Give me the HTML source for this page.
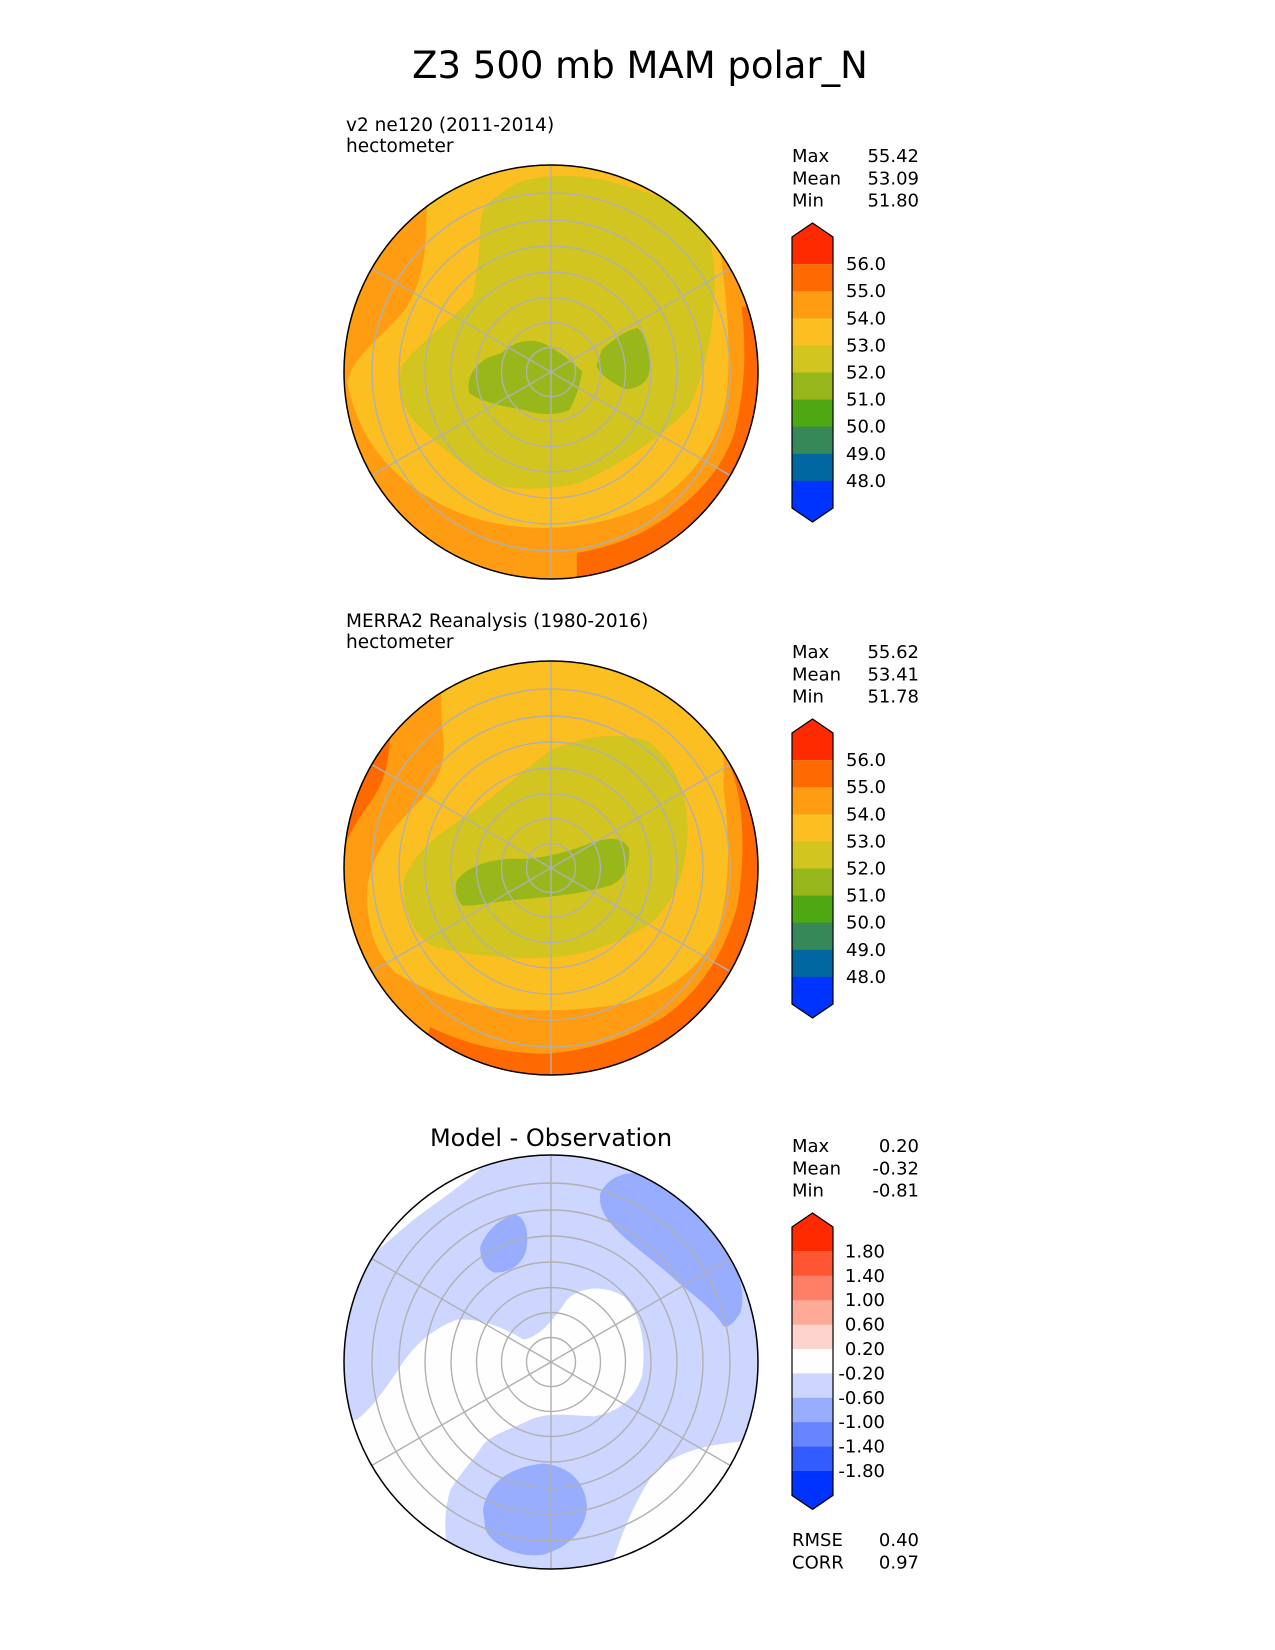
<!DOCTYPE html>
<html><head><meta charset="utf-8">
<style>
html,body{margin:0;padding:0;background:#fff;}
svg{display:block;font-family:"DejaVu Sans","Liberation Sans",sans-serif;}
</style></head>
<body>
<svg id="fig" width="1275" height="1650" viewBox="0 0 1275 1650" xmlns="http://www.w3.org/2000/svg">
<defs>
<clipPath id="c1"><circle cx="551" cy="372" r="207"/></clipPath>
<clipPath id="c2"><circle cx="551" cy="868" r="207"/></clipPath>
<clipPath id="c3"><circle cx="551" cy="1362" r="207"/></clipPath>
</defs>
<rect width="1275" height="1650" fill="#fff"/>
<text x="640" y="78" font-size="37" text-anchor="middle">Z3 500 mb MAM polar_N</text>

<!-- Panel 1 -->
<g clip-path="url(#c1)">
<circle cx="551" cy="372" r="207" fill="#ff9c12"/>
<g transform="translate(551,372) scale(0.358,0.333) translate(-618,-667)">
<path fill="#ff6a00" d="M1150,470 C1165,600 1160,720 1130,850 C1090,980 990,1080 870,1150 C810,1180 750,1200 690,1210 L690,1400 L1400,1400 L1400,470 Z"/>
<path fill="#fcbf22" d="M280,20 L1050,20 L1090,300 C1110,450 1120,600 1110,720 C1100,850 1030,970 920,1050 C820,1110 700,1135 600,1135 C450,1135 330,1090 230,1010 C130,930 70,820 50,700 C60,620 150,560 210,480 C260,400 270,300 270,200 Z"/>
<path fill="#d2c51f" d="M420,250 C420,160 440,160 520,100 C600,70 700,70 800,100 C900,130 980,160 1040,220 C1080,300 1080,400 1070,500 C1060,600 1040,700 1000,780 C920,870 800,950 700,1000 C640,1015 560,1025 480,1010 C400,980 320,900 240,820 C190,760 190,700 200,650 C250,580 330,520 400,440 C410,380 420,300 420,250 Z"/>
<path fill="#97b71a" d="M480,610 C510,580 550,565 590,578 C630,595 670,630 705,665 C700,700 690,740 670,780 C640,795 590,800 540,780 C480,770 420,755 390,730 C380,690 400,650 440,625 Z"/>
<path fill="#97b71a" d="M760,600 C790,570 830,540 860,535 C890,560 900,620 892,670 C885,705 850,720 825,718 C790,700 760,680 745,650 Z"/>
</g>
</g>

<!-- Panel 2 -->
<g clip-path="url(#c2)">
<circle cx="551" cy="868" r="207" fill="#ff9c12"/>
<g transform="translate(551,868) scale(0.3333) translate(-662,-683)">
<path fill="#ff6a00" d="M180,280 C175,360 170,420 110,500 C80,540 60,580 40,620 L0,620 L0,280 Z"/>
<path fill="#ff6a00" d="M1200,380 C1250,500 1240,700 1220,800 C1180,950 1100,1060 1000,1130 C900,1190 780,1230 650,1240 C520,1240 400,1210 300,1160 L200,1400 L1400,1400 L1400,380 Z"/>
<path fill="#fcbf22" d="M340,30 L1180,30 L1180,450 C1200,600 1200,750 1160,880 C1100,1000 1000,1060 880,1090 C760,1110 640,1115 520,1105 C400,1090 300,1060 200,1000 C130,940 110,850 110,760 C115,650 180,570 260,490 C320,430 345,380 340,300 C330,220 330,150 340,30 Z"/>
<path fill="#d2c51f" d="M220,720 C250,640 320,580 420,520 C500,460 580,390 660,330 C740,295 840,270 950,300 C1030,360 1070,450 1072,560 C1072,680 1040,780 960,850 C860,910 760,950 640,952 C520,955 400,945 300,915 C240,870 215,800 220,720 Z"/>
<path fill="#97b71a" d="M380,720 C410,680 470,660 540,655 C620,660 700,640 790,605 C840,590 880,590 896,625 C900,680 880,720 840,735 C760,760 660,770 560,778 C480,785 430,800 395,795 C375,770 372,745 380,720 Z"/>
</g>
</g>

<!-- Panel 3 -->
<g clip-path="url(#c3)">
<circle cx="551" cy="1362" r="207" fill="#ccd6ff"/>
<g transform="translate(551,1362) scale(0.3333) translate(-662,-697)">
<path fill="#fefefe" d="M480,90 C420,150 330,210 250,270 C180,330 130,370 90,410 L0,410 L0,0 L480,0 Z"/>
<path fill="#fefefe" d="M80,870 C130,830 170,770 210,710 C250,650 300,600 380,570 C460,565 530,600 580,630 C630,620 670,570 710,510 C750,470 820,465 880,500 C930,550 950,640 935,740 C910,810 860,850 790,860 C720,858 660,845 600,870 C540,900 480,915 455,950 C430,990 390,1030 360,1080 C340,1150 340,1220 360,1300 L0,1300 L0,880 Z"/>
<path fill="#fefefe" d="M840,1320 C870,1220 910,1120 970,1030 C1030,970 1120,945 1240,935 L1400,935 L1400,1400 L840,1400 Z"/>
<path fill="#99adff" d="M450,350 C470,300 510,265 555,255 C590,265 598,320 585,370 C570,410 530,432 490,428 C460,415 448,385 450,350 Z"/>
<path fill="#99adff" d="M810,190 C830,150 870,128 920,130 C1000,160 1080,230 1160,320 C1220,400 1250,480 1230,550 C1210,580 1195,595 1180,590 C1150,540 1100,505 1040,455 C970,390 890,340 840,280 C815,250 805,220 810,190 Z"/>
<path fill="#99adff" d="M458,1140 C470,1060 540,1010 640,1002 C720,1010 765,1060 770,1130 C765,1200 720,1250 640,1275 C560,1285 490,1250 465,1200 Z"/>
</g>
</g>

<g id="grids"></g>
<g id="bars"></g>
<g id="texts"></g>
</svg>
<script>
// Colour-bar levels and colours (data)
const levelsAbs = [56.0, 55.0, 54.0, 53.0, 52.0, 51.0, 50.0, 49.0, 48.0];
const colorsAbs = ["#ff2a00", "#ff6a00", "#ff9c12", "#fcbf22", "#d2c51f", "#97b71a", "#4ea813", "#378858", "#0067a1", "#0033ff"];
const levelsDiff = [1.80, 1.40, 1.00, 0.60, 0.20, -0.20, -0.60, -1.00, -1.40, -1.80];
const colorsDiff = ["#ff2a00", "#ff5533", "#ff7f66", "#ffaa99", "#ffd4cc", "#fefefe", "#ccd6ff", "#99adff", "#6685ff", "#335cff", "#0033ff"];
const statNames = ["Max", "Mean", "Min"];
const statsTest = ["55.42", "53.09", "51.80"];
const statsObs = ["55.62", "53.41", "51.78"];
const statsDiff = ["0.20", "-0.32", "-0.81"];
const metricNames = ["RMSE", "CORR"];
const metricValues = ["0.40", "0.97"];
const ringRadii = [24.5, 49.5, 74.5, 100, 126, 152, 179];
const spokeAngles = [0, 60, 120, 180, 240, 300];

const NS = "http://www.w3.org/2000/svg";
function mk(tag, attrs, parent) {
  const e = document.createElementNS(NS, tag);
  for (const k in attrs) e.setAttribute(k, attrs[k]);
  parent.appendChild(e);
  return e;
}
const grids = document.getElementById('grids');
const bars = document.getElementById('bars');
const texts = document.getElementById('texts');
const centers = [372, 868, 1362];
const CX = 551, R = 207;

centers.forEach((cy, p) => {
  const g = mk('g', {}, grids);
  
  
  ringRadii.forEach(r => {
    const c = mk('circle', {cx: CX, cy: cy, r: r, fill: 'none', stroke: '#b0b0b0', 'stroke-width': 1.4}, g);
    
    
  });
  spokeAngles.forEach(a => {
    const rad = a * Math.PI / 180;
    const l = mk('line', {x1: CX, y1: cy, x2: CX + R * Math.sin(rad), y2: cy - R * Math.cos(rad), stroke: '#b0b0b0', 'stroke-width': 1.4}, g);
    
    
  });
  const b = mk('circle', {cx: CX, cy: cy, r: R, fill: 'none', stroke: '#000', 'stroke-width': 1.5}, g);
  
  
});

function colorbar(top, boxH, levels, colors, labelX, anchor, name) {
  const x0 = 792, x1 = 833, xm = (x0 + x1) / 2, tri = 14;
  const g = mk('g', {}, bars);
  
  
  const first = top + tri + boxH;
  const last = first + (levels.length - 1) * boxH;
  const t = mk('path', {d: `M${x0},${first} L${x0},${top + tri} L${xm},${top} L${x1},${top + tri} L${x1},${first} Z`, fill: colors[0]}, g);
  
  
  for (let i = 0; i < levels.length - 1; i++) {
    const r = mk('rect', {x: x0, y: first + i * boxH, width: x1 - x0, height: boxH + 0.5, fill: colors[i + 1]}, g);
    
    
  }
  const bt = mk('path', {d: `M${x0},${last} L${x0},${last + boxH} L${xm},${last + boxH + tri} L${x1},${last + boxH} L${x1},${last} Z`, fill: colors[colors.length - 1]}, g);
  
  
  const o = mk('path', {d: `M${x0},${top + tri} L${xm},${top} L${x1},${top + tri} L${x1},${last + boxH} L${xm},${last + boxH + tri} L${x0},${last + boxH} Z`, fill: 'none', stroke: '#000', 'stroke-width': 1.2}, g);
  
  
  levels.forEach((v, i) => {
    const tx = mk('text', {x: labelX, y: first + i * boxH + 6, 'font-size': 18, 'text-anchor': anchor}, g);
    tx.textContent = (Math.abs(v) < 10 ? v.toFixed(2) : v.toFixed(1));
    
    
  });
}
colorbar(223, 27.1, levelsAbs, colorsAbs, 846, 'start', 'colorbar-test');
colorbar(719, 27.1, levelsAbs, colorsAbs, 846, 'start', 'colorbar-obs');
colorbar(1213, 24.4, levelsDiff, colorsDiff, 885, 'end', 'colorbar-diff');

function stats(y0, values, name) {
  statNames.forEach((n, i) => {
    const a = mk('text', {x: 792, y: y0 + i * 22.3, 'font-size': 18}, texts);
    a.textContent = n;
    
    
    const b = mk('text', {x: 919, y: y0 + i * 22.3, 'font-size': 18, 'text-anchor': 'end'}, texts);
    b.textContent = values[i];
    
    
  });
}
stats(162, statsTest, 'stat-test');
stats(658, statsObs, 'stat-obs');
stats(1152, statsDiff, 'stat-diff');
metricNames.forEach((n, i) => {
  const a = mk('text', {x: 792, y: 1546 + i * 22.3, 'font-size': 18}, texts);
  a.textContent = n;
  
  
  const b = mk('text', {x: 919, y: 1546 + i * 22.3, 'font-size': 18, 'text-anchor': 'end'}, texts);
  b.textContent = metricValues[i];
  
  
});

const subs = [["v2 ne120 (2011-2014)", "hectometer", 131], ["MERRA2 Reanalysis (1980-2016)", "hectometer", 627]];
subs.forEach(s => {
  const a = mk('text', {x: 346, y: s[2], 'font-size': 18.5}, texts);
  a.textContent = s[0];
  
  
  const b = mk('text', {x: 346, y: s[2] + 21, 'font-size': 18.5}, texts);
  b.textContent = s[1];
  
  
});
const mt = mk('text', {x: 551, y: 1146, 'font-size': 24, 'text-anchor': 'middle'}, texts);
mt.textContent = "Model - Observation";


</script>
</body></html>
